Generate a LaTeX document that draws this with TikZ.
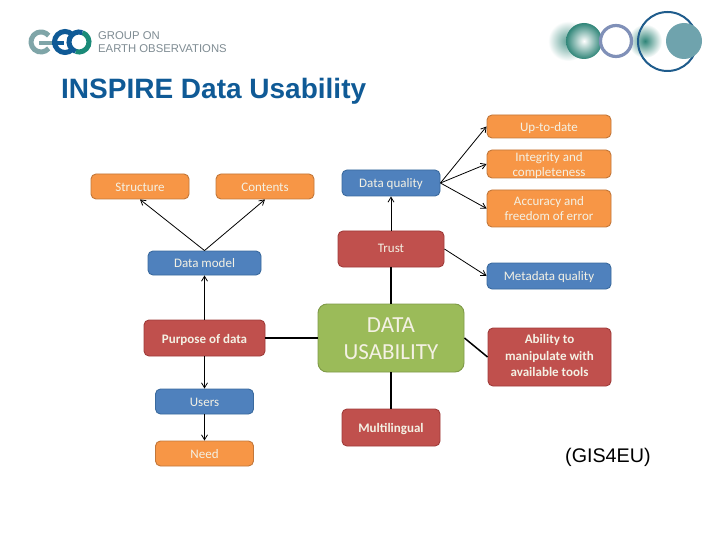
\documentclass[tikz,border=0pt]{standalone}
\usepackage{fontspec}
\setmainfont{Carlito}
\newfontfamily\arialf{Liberation Sans}
\usetikzlibrary{arrows.meta,calc}
\definecolor{orf}{HTML}{F79646}\definecolor{ord}{HTML}{C2773A}
\definecolor{blf}{HTML}{4F81BD}\definecolor{bld}{HTML}{3A6A9E}
\definecolor{rdf}{HTML}{C0504D}\definecolor{rdd}{HTML}{A03C3A}
\definecolor{grf}{HTML}{9BBB59}\definecolor{grd}{HTML}{7F9A48}
\definecolor{titleblue}{HTML}{0F5A96}
\definecolor{logogrey}{HTML}{7F8C93}
\definecolor{ltext}{HTML}{F4F1E4}
\definecolor{geog}{HTML}{7FA5A8}
\definecolor{geoo}{HTML}{1A8A78}
\definecolor{ball}{HTML}{2F8578}
\definecolor{ringc}{HTML}{8090B8}
\definecolor{bigf}{HTML}{6FA3AD}
\definecolor{bigr}{HTML}{1F5C8C}
\tikzset{
  x=1pt,y=-1pt,
  box/.style={rounded corners=5pt,line width=.9pt,text=ltext,align=center,inner sep=0pt,font=\fontsize{13}{15.5}\selectfont},
  orangebox/.style={box,fill=orf,draw=ord},
  bluebox/.style={box,fill=blf,draw=bld},
  redbox/.style={box,fill=rdf,draw=rdd,font=\fontsize{13}{16.5}\selectfont\bfseries},
  arrow/.style={-{Straight Barb[length=5pt,width=6pt]},black,line width=.8pt},
  link/.style={black,line width=1.5pt},
}
\newcommand{\dn}[2]{\raisebox{-#1}[\height][\depth]{#2}}
\newcommand{\bx}[7]{\node[#1,minimum width=#4pt-#3pt,minimum height=#6pt-#5pt,anchor=center] (#2) at ({(#3+#4)/2},{(#5+#6)/2}) {#7};}
\begin{document}
\begin{tikzpicture}
\useasboundingbox (0,0) rectangle (720,540);
\fill[white] (0,0) rectangle (720,540);
% left logo
\draw[line width=5pt,color=geog] ([shift={(41,42)}]40:10) arc[start angle=40,end angle=320,radius=10];
\draw[line width=3.5pt,color=geog] (39,43) -- (52,43);
\draw[line width=5pt,color=titleblue] ([shift={(65,42)}]45:10.5) arc[start angle=45,end angle=315,radius=10.5];
\draw[line width=3.5pt,color=titleblue] (52,43) -- (64,43);
\draw[line width=5pt,color=geoo] ([shift={(79,42)}]-70:10) arc[start angle=-70,end angle=110,radius=10];
\draw[line width=5pt,color=titleblue] ([shift={(79,42)}]110:10) arc[start angle=110,end angle=290,radius=10];
\node[anchor=west,inner sep=0pt,text=logogrey,align=left,font=\arialf\fontsize{11.3}{13}\selectfont] (logotext) at (98,42.5) {GROUP ON\\EARTH OBSERVATIONS};
% right logo
\shade[inner color=ball!80,outer color=white] (568,41) circle (20);
\shade[inner color=white,outer color=ball,draw=none] (584,41) circle (18);
\shade[inner color=ball,outer color=white] (645,41) circle (17);
\draw[line width=3.2pt,color=ringc] (616,41) circle (15.5);
\draw[line width=2pt,color=bigr] (667.5,41.5) circle (29.5);
\fill[color=bigf] (684,41) circle (18);
% title
\node[anchor=west,inner sep=0pt,text=titleblue,font=\arialf\fontsize{28}{32}\selectfont\bfseries] (title) at (61,91) {INSPIRE Data Usability};
% boxes
\bx{orangebox}{up}{487}{611}{115}{138}{\dn{2pt}{Up-to-date}}
\bx{orangebox}{integ}{487}{611}{150}{178}{\dn{1.5pt}{Integrity and}\\\dn{1.5pt}{completeness}}
\bx{orangebox}{acc}{487}{611}{190}{227}{Accuracy and\\freedom of error}
\bx{bluebox}{dq}{342}{440}{170}{196}{\dn{1pt}{Data quality}}
\bx{redbox}{trust}{338}{444}{231}{267}{\dn{-1pt}{\mdseries Trust}}
\bx{bluebox}{meta}{487}{611}{263}{289}{\dn{1pt}{Metadata quality}}
\bx{orangebox}{struct}{91}{189}{174}{199}{\dn{1pt}{Structure}}
\bx{orangebox}{cont}{216}{314}{174}{199}{\dn{1pt}{Contents}}
\bx{bluebox}{dm}{148}{261}{251}{275}{Data model}
\bx{redbox}{purp}{144}{265}{320}{356}{\dn{2pt}{Purpose of data}}
\bx{bluebox}{users}{155.5}{253.5}{389}{414}{\dn{.5pt}{Users}}
\bx{orangebox}{need}{155.5}{253.5}{441}{466}{\dn{1pt}{Need}}
\bx{redbox}{multi}{342}{440}{409}{446}{\dn{2pt}{Multilingual}}
\bx{redbox}{abil}{488}{611}{328}{386}{\dn{-1.5pt}{Ability to}\\\dn{-1.5pt}{manipulate with}\\\dn{-1.5pt}{available tools}}
\node[box,fill=grf,draw=grd,rounded corners=9pt,minimum width=146pt,minimum height=68pt,font=\fontsize{23}{27}\selectfont] (core) at (391,338) {\dn{1pt}{DATA}\\\dn{1pt}{USABILITY}};
% connectors
\draw[arrow] (dq.east) -- (up.west);
\draw[arrow] (dq.east) -- (integ.west);
\draw[arrow] (dq.east) -- (acc.west);
\draw[arrow] (trust.north) -- (dq.south);
\draw[arrow] (trust.east) -- (meta.west);
\draw[arrow] (dm.north) -- (struct.south);
\draw[arrow] (dm.north) -- (cont.south);
\draw[arrow] (purp.north) -- (dm.south);
\draw[arrow] (purp.south) -- (users.north);
\draw[arrow] (users.south) -- (need.north);
\draw[link] (purp.east) -- (core.west);
\draw[link] (core.north) -- (trust.south);
\draw[link] (core.south) -- (multi.north);
\draw[link] (core.east) -- (abil.west);
\node[anchor=west,inner sep=0pt,text=black,font=\arialf\fontsize{19.7}{22}\selectfont] (src) at (565,457) {(GIS4EU)};
\end{tikzpicture}
\end{document}
